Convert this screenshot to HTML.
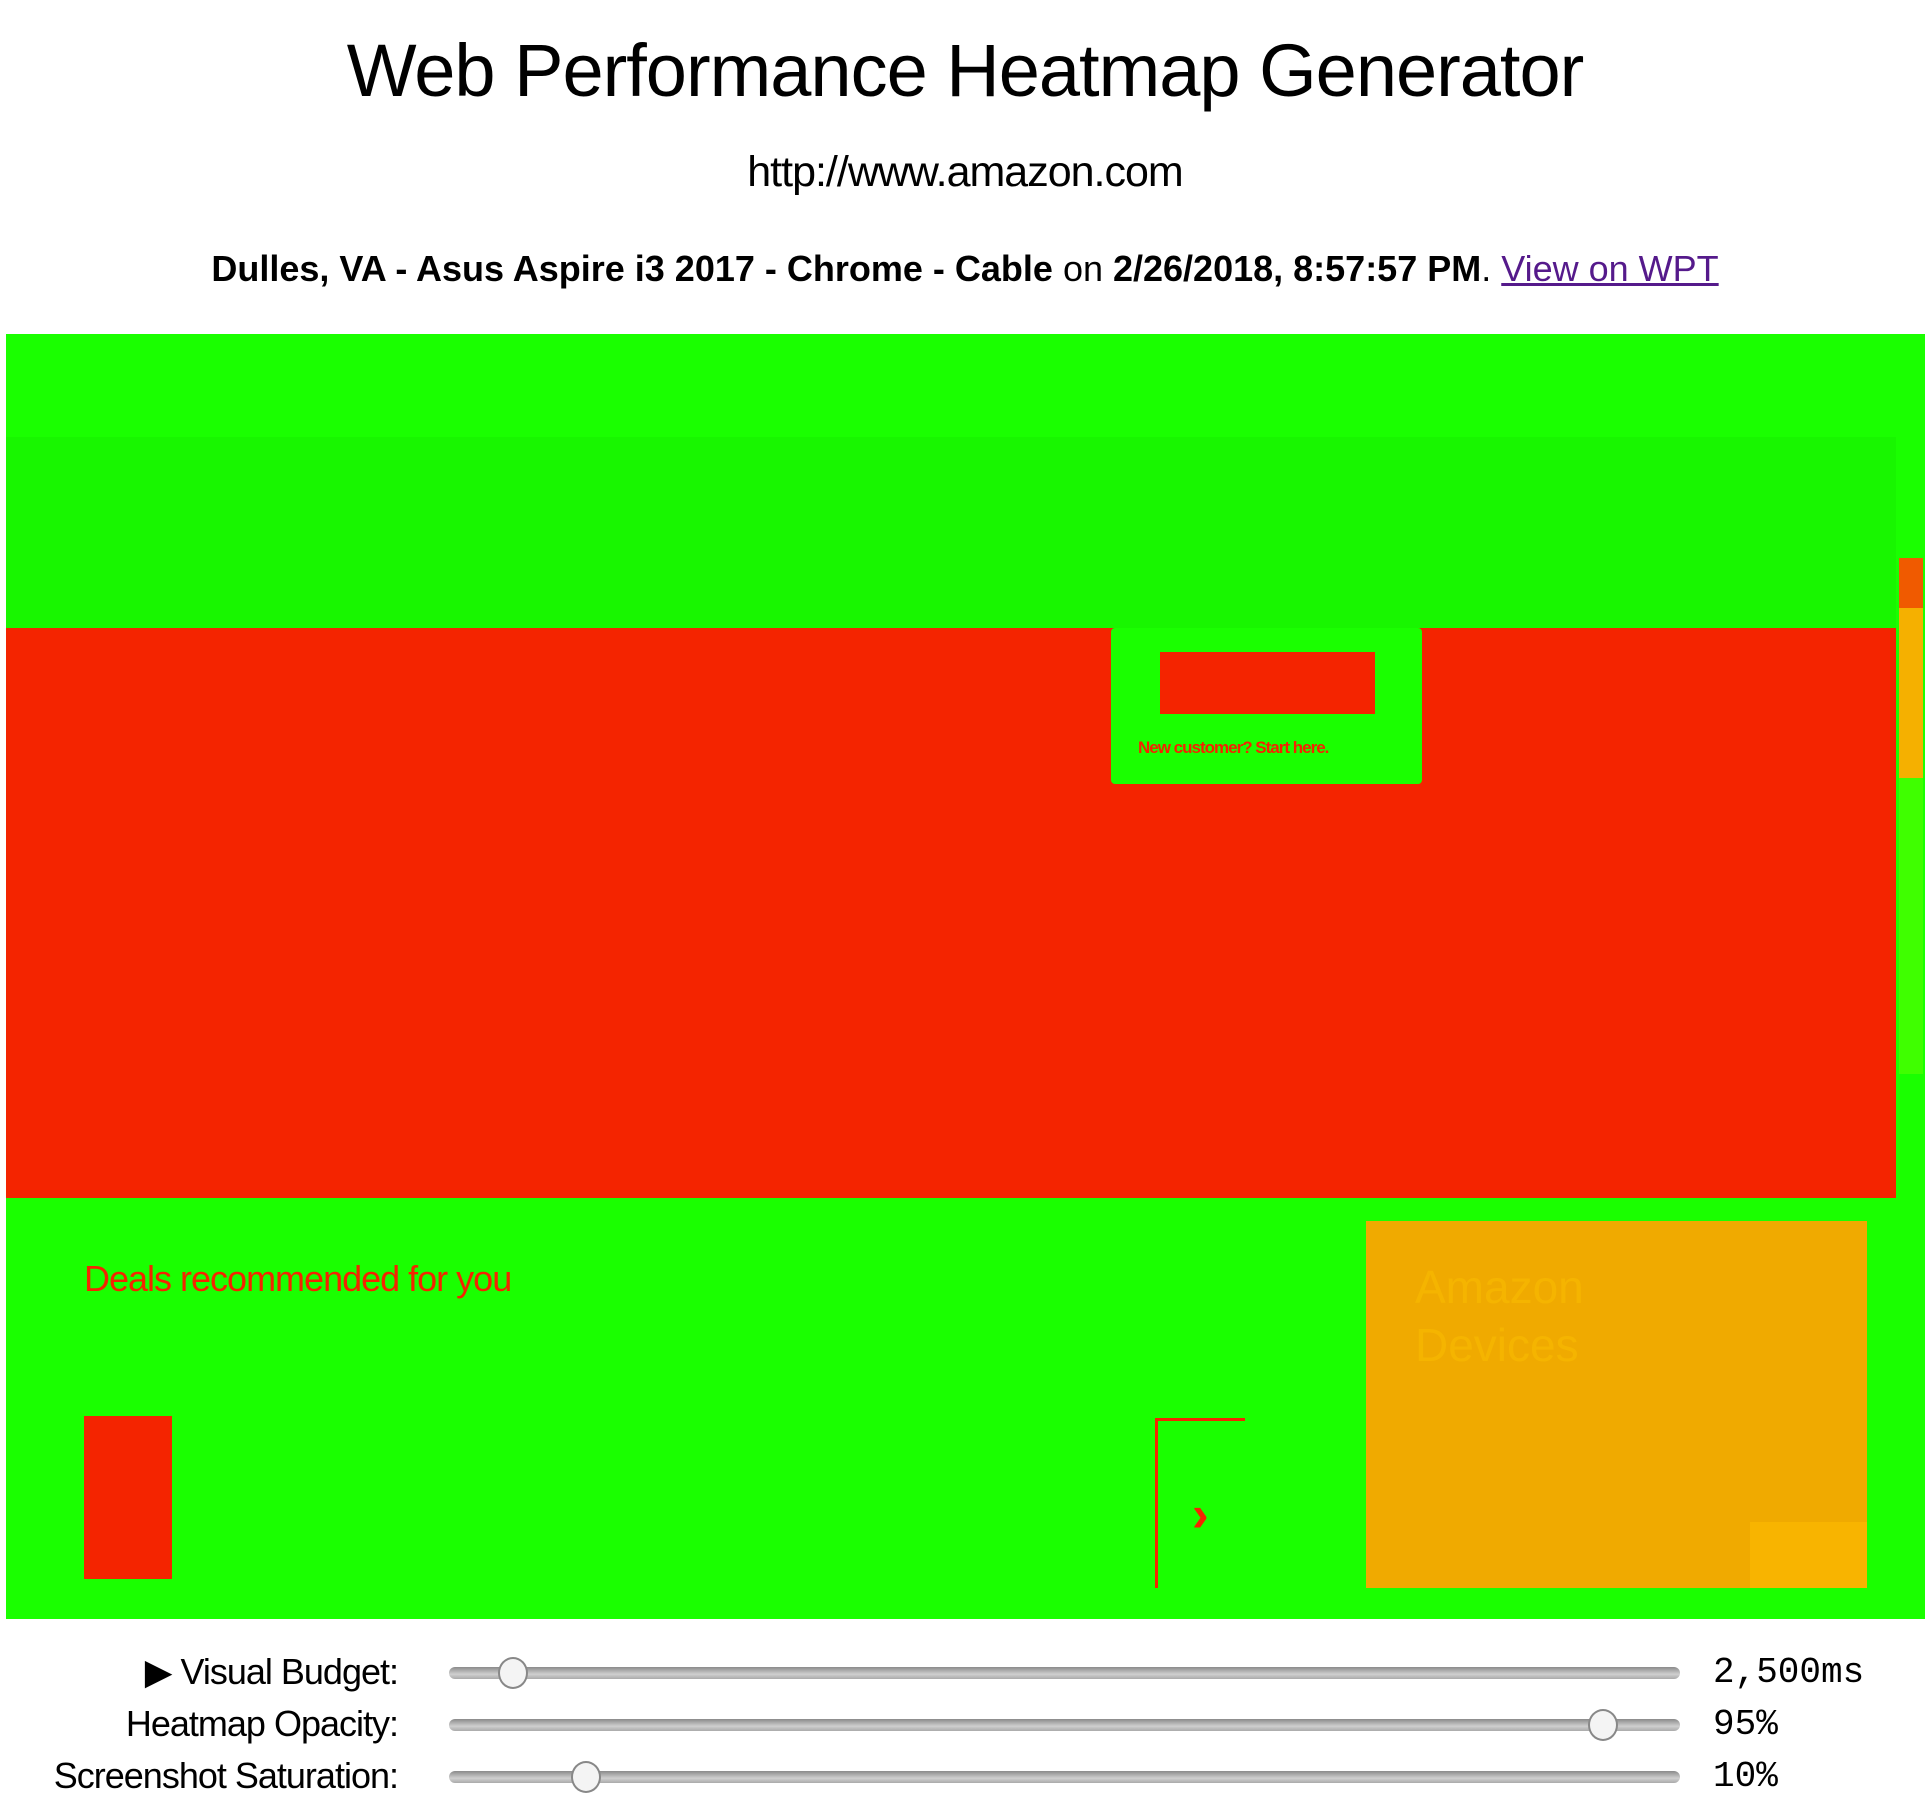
<!DOCTYPE html>
<html><head><meta charset="utf-8"><style>
body{margin:0;width:1930px;height:1812px;background:#fff;font-family:"Liberation Sans",sans-serif;position:relative;overflow:hidden}
.a{position:absolute}
.t{position:absolute;left:0;width:1930px;text-align:center;color:#000;white-space:nowrap}
.lbl{position:absolute;right:1532px;font-size:36px;letter-spacing:-1px;white-space:nowrap}
.tr{position:absolute;left:449px;width:1231px;height:12px;border-radius:6px;background:linear-gradient(#8a8a8a,#cfcfcf 60%,#aaa);}
.th{position:absolute;width:30px;height:32px;border-radius:50%;background:#f4f4f4;border:2px solid #888;box-sizing:border-box}
.v{position:absolute;left:1713px;font-family:"Liberation Mono",monospace;font-size:36px;white-space:nowrap}
</style></head><body>
<div class="t" style="top:28px;font-size:74px;letter-spacing:-1px">Web Performance Heatmap Generator</div>
<div class="t" style="top:148px;font-size:43px;letter-spacing:-1px">http://www.amazon.com</div>
<div class="t" style="top:248px;font-size:36px"><b>Dulles, VA - Asus Aspire i3 2017 - Chrome - Cable</b> on <b>2/26/2018, 8:57:57 PM</b>. <span style="color:#551a8b;text-decoration:underline">View on WPT</span></div>

<div class="a" style="left:6px;top:334px;width:1919px;height:1285px;background:#1aff00"></div>
<div class="a" style="left:6px;top:437px;width:1890px;height:191px;background:#18f600"></div>
<div class="a" style="left:6px;top:628px;width:1890px;height:570px;background:#f42400"></div>
<div class="a" style="left:1899px;top:558px;width:24px;height:50px;background:#f05a00"></div>
<div class="a" style="left:1899px;top:608px;width:24px;height:170px;background:#f5b000"></div>
<div class="a" style="left:1899px;top:778px;width:24px;height:296px;background:#3fff00"></div>
<div class="a" style="left:1111px;top:628px;width:311px;height:156px;background:#1aff00;border-radius:4px"></div>
<div class="a" style="left:1160px;top:652px;width:215px;height:62px;background:#f42400"></div>
<div class="a" style="left:1138px;top:738px;font-size:17px;color:#f42400;font-weight:bold;letter-spacing:-1px">New customer? Start here.</div>
<div class="a" style="left:84px;top:1258px;font-size:36px;color:#f42400;letter-spacing:-1px">Deals recommended for you</div>
<div class="a" style="left:84px;top:1416px;width:88px;height:163px;background:#f42400"></div>
<div class="a" style="left:1155px;top:1418px;width:3px;height:170px;background:#f42400"></div>
<div class="a" style="left:1155px;top:1418px;width:90px;height:3px;background:#f42400"></div>
<div class="a" style="left:1192px;top:1485px;font-size:50px;font-weight:bold;color:#f42400">›</div>
<div class="a" style="left:1366px;top:1221px;width:501px;height:367px;background:#f0aa00"></div>
<div class="a" style="left:1750px;top:1522px;width:117px;height:66px;background:#f8b400"></div>
<div class="a" style="left:1415px;top:1258px;font-size:46px;color:#f5b400;line-height:58px">Amazon<br>Devices</div>

<div class="lbl" style="top:1651px">▶ Visual Budget:</div>
<div class="lbl" style="top:1703px">Heatmap Opacity:</div>
<div class="lbl" style="top:1755px">Screenshot Saturation:</div>
<div class="tr" style="top:1667px"></div>
<div class="tr" style="top:1719px"></div>
<div class="tr" style="top:1771px"></div>
<div class="th" style="left:498px;top:1657px"></div>
<div class="th" style="left:1588px;top:1709px"></div>
<div class="th" style="left:571px;top:1761px"></div>
<div class="v" style="top:1652px">2,500ms</div>
<div class="v" style="top:1704px">95%</div>
<div class="v" style="top:1756px">10%</div>
</body></html>
